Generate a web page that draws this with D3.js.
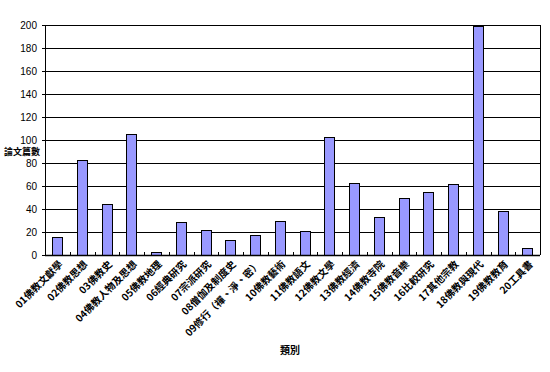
<!DOCTYPE html>
<html>
<head>
<meta charset="utf-8">
<script src="https://cdn.jsdelivr.net/npm/d3@7"></script>
<style>
    body { margin: 0; background: #fff; }
    text { font-family: "Noto Sans CJK TC", "Noto Sans", sans-serif; fill: #000; }
    .y-axis text, .ytitle { font-family: "Liberation Sans", "Noto Sans CJK TC", sans-serif; }
</style>
</head>
<body>
<div id="chart"></div>
<script>
// categories and counts
let categories = ["01佛教文獻學", "02佛教思想", "03佛教史", "04佛教人物及思想", "05佛教地理",
    "06經典研究", "07宗派研究", "08僧伽及制度史", "09修行（禪、淨、密）", "10佛教藝術",
    "11佛教語文", "12佛教文學", "13佛教經濟", "14佛教寺院", "15佛教音樂",
    "16比較研究", "17其他宗教", "18佛教與現代", "19佛教教育", "20工具書"];
let counts = [16, 83, 44, 105, 3, 29, 22, 13, 17, 30, 21, 103, 63, 33, 50, 55, 62, 199, 38, 6];
let yTicks = [0, 20, 40, 60, 80, 100, 120, 140, 160, 180, 200];

let margin = {top: 25, right: 10, bottom: 117, left: 45};
let width = 550 - margin.left - margin.right;
let height = 372 - margin.top - margin.bottom;

let svg = d3.select("#chart").append("svg")
    .attr("width", 550)
    .attr("height", 372);

let g = svg.append("g")
    .attr("transform", `translate(${margin.left}, ${margin.top})`);

let x = d3.scaleBand()
    .domain(categories)
    .range([0, width])
    .paddingInner(0.58)
    .paddingOuter(0.29);

let y = d3.scaleLinear()
    .domain([0, 200])
    .range([height, 0]);

// horizontal grid lines
g.selectAll(".grid")
    .data(yTicks)
    .enter()
    .append("line")
    .attr("class", "grid")
    .attr("x1", 0)
    .attr("x2", width)
    .attr("y1", d => Math.round(y(d)) + 0.5)
    .attr("y2", d => Math.round(y(d)) + 0.5)
    .attr("stroke", "#000")
    .attr("stroke-width", 1);

// right frame
g.append("line")
    .attr("x1", width + 0.5).attr("x2", width + 0.5)
    .attr("y1", y(200)).attr("y2", y(0))
    .attr("stroke", "#000");

// bars
g.selectAll(".bar")
    .data(counts)
    .enter()
    .append("rect")
    .attr("class", "bar")
    .attr("x", (d, i) => Math.round(x(categories[i])) + 0.5)
    .attr("y", d => Math.round(y(d)) + 0.5)
    .attr("width", Math.round(x.bandwidth()))
    .attr("height", d => Math.round(y(0)) - Math.round(y(d)))
    .attr("fill", "#9999ff")
    .attr("stroke", "#000")
    .attr("stroke-width", 1);

// y axis
let yAxis = d3.axisLeft(y)
    .tickValues(yTicks)
    .tickSize(3)
    .tickPadding(5);

g.append("g")
    .attr("class", "y-axis")
    .call(yAxis)
    .call(a => a.select(".domain").attr("stroke", "#000"))
    .selectAll("text")
    .style("font-size", "10px");

// x axis: ticks between the categories, pointing up
let step = x.step();
let bounds = d3.range(1, categories.length);
g.selectAll(".xtick")
    .data(bounds)
    .enter()
    .append("line")
    .attr("class", "xtick")
    .attr("x1", d => Math.round(d * step) + 0.5)
    .attr("x2", d => Math.round(d * step) + 0.5)
    .attr("y1", height)
    .attr("y2", height - 3)
    .attr("stroke", "#000");

g.append("line")
    .attr("x1", 0).attr("x2", width)
    .attr("y1", Math.round(height) + 0.5).attr("y2", Math.round(height) + 0.5)
    .attr("stroke", "#000")
    .attr("stroke-width", 1.5);

// category labels rotated 45 degrees
g.selectAll(".xlabel")
    .data(categories)
    .enter()
    .append("text")
    .attr("class", "xlabel")
    .attr("text-anchor", "end")
    .attr("transform", d => `translate(${x(d) + x.bandwidth() / 2 + 6}, ${height + 10}) rotate(-45)`)
    .style("font-size", "10px")
    .style("font-weight", "bold")
    .text(d => d);

// axis titles
svg.append("text")
    .attr("class", "ytitle")
    .attr("x", 4)
    .attr("y", 155)
    .style("font-size", "9px")
    .style("font-weight", "bold")
    .text("論文篇數");

svg.append("text")
    .attr("x", 290)
    .attr("y", 354)
    .attr("text-anchor", "middle")
    .style("font-size", "10px")
    .style("font-weight", "bold")
    .text("類別");
</script>
</body>
</html>
